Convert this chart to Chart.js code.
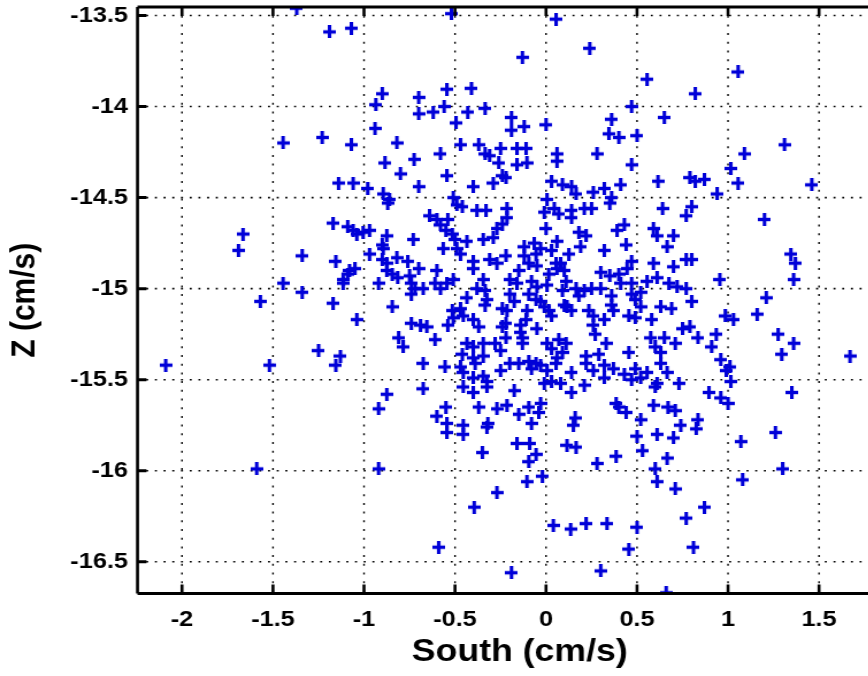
<!DOCTYPE html>
<html lang="en">
<head>
<meta charset="UTF-8">
<title>South vs Z</title>
<style>
  html, body { margin: 0; padding: 0; background: #fff; overflow: hidden; }
  #wrap { width: 868px; height: 676px; overflow: hidden; }
</style>
</head>
<body>
<div id="wrap">
  <!-- drawn 800 wide, shown 920 wide: the original figure is stretched sideways and cropped on the right -->
  <canvas id="plot" width="800" height="676" style="width:920px;height:676px"></canvas>
</div>
<script src="https://cdn.jsdelivr.net/npm/chart.js"></script>
<script>
const SX = 920 / 800;

const southVals = [
  -1.37,-0.52,-1.19,-1.07,0.055,0.24,-0.13,0.555,1.055,0.82,
  -0.545,-0.41,-0.90,-0.935,-0.70,-0.70,-0.62,-0.56,-0.43,-0.335,
  -0.495,-0.94,-1.23,-1.07,-0.82,-0.58,-0.47,-0.37,-0.335,-0.31,
  -0.26,-0.25,-0.885,-0.725,-0.80,-0.545,-1.14,-1.06,-0.98,-0.895,
  -0.70,-0.40,-0.29,-0.24,-0.51,-0.86,0.47,0.65,-0.19,-0.19,
  -0.12,0.0,0.36,0.345,0.40,0.50,-0.16,-0.11,-0.16,-0.105,
  0.06,0.06,0.28,0.47,-0.22,0.03,0.09,0.14,0.165,0.26,
  0.32,0.36,0.41,0.615,0.005,0.79,1.31,1.09,1.015,1.055,
  0.82,0.87,0.94,1.46,-1.445,-1.665,-1.69,-1.34,-1.445,-1.34,
  -1.57,-1.25,-2.09,-1.52,-1.59,-0.92,-0.60,-0.55,-0.545,-0.545,
  -0.455,-0.455,-0.37,-0.32,-0.325,-0.27,-0.35,-0.92,-0.27,-0.395,
  -0.59,-0.15,-0.095,-0.08,-0.04,-0.03,-0.215,-0.16,-0.09,-0.055,
  -0.095,-0.105,-0.02,0.16,0.15,0.115,0.165,0.385,0.40,0.44,
  0.385,0.28,0.59,0.67,0.71,0.74,0.52,0.50,0.61,0.70,
  0.53,0.665,0.60,0.61,0.71,0.04,0.135,0.22,0.335,0.50,
  0.455,-0.19,0.30,0.66,0.77,1.0,0.835,0.825,1.07,1.26,
  1.30,1.08,0.87,0.81,1.20,1.345,1.37,1.36,0.955,1.21,
  1.16,0.985,1.03,0.80,0.80,0.80,1.275,1.36,1.295,1.67,
  0.935,0.835,0.79,0.91,0.96,1.01,0.99,1.015,0.895,0.96,
  1.35,-0.87,-1.17,-1.09,-1.06,-1.04,-1.005,-0.97,-0.875,-0.90,
  -0.895,-0.73,-0.97,-1.155,-0.90,-0.875,-0.82,-0.76,-1.05,-1.08,
  -1.09,-1.115,-1.115,-0.875,-0.845,-0.815,-0.92,-0.70,-0.75,-0.74,
  -0.72,-0.74,-0.675,-0.60,-0.61,-0.58,-0.545,-0.51,-1.17,-0.845,
  -1.04,-0.74,-0.69,-0.655,-0.61,-0.81,-0.785,-1.13,-1.155,-0.675,
  -0.555,-0.875,-0.675,-0.49,-0.46,-0.38,-0.33,-0.64,-0.60,-0.58,
  -0.54,-0.55,-0.515,-0.50,-0.565,-0.49,-0.47,-0.435,-0.345,-0.29,
  -0.27,-0.24,-0.40,-0.40,-0.31,-0.27,-0.345,-0.38,-0.335,-0.435,
  -0.325,-0.335,-0.47,-0.515,-0.51,-0.455,-0.54,-0.40,-0.37,-0.24,
  -0.435,-0.40,-0.345,-0.28,-0.46,-0.40,-0.345,-0.25,-0.39,-0.47,
  -0.455,-0.345,-0.40,-0.325,-0.455,-0.40,-0.325,-0.25,-0.24,-0.215,
  -0.215,-0.01,0.045,0.07,0.14,0.21,0.25,0.14,0.35,0.64,
  0.77,0.0,0.43,0.39,0.59,0.61,0.70,0.665,0.18,0.22,
  0.19,0.06,-0.12,-0.065,-0.03,0.03,0.32,0.44,-0.22,-0.12,
  -0.055,0.125,0.055,0.08,0.10,0.06,-0.095,-0.05,-0.15,0.47,
  0.59,0.70,0.77,0.30,0.35,0.40,0.445,0.41,0.47,0.555,
  0.61,0.675,0.72,0.77,0.015,0.11,-0.20,-0.16,-0.08,-0.05,
  0.005,0.165,0.21,0.25,0.30,0.18,0.09,0.36,0.47,0.49,
  0.52,-0.20,-0.175,-0.095,-0.055,-0.03,-0.01,0.015,-0.105,-0.215,
  0.10,0.14,0.115,0.235,0.26,0.32,0.36,0.37,0.455,0.49,
  0.52,0.58,0.63,0.69,0.03,-0.11,-0.22,-0.14,-0.14,-0.05,
  0.26,0.27,0.75,-0.22,-0.13,-0.13,0.005,0.07,0.11,0.33,
  0.575,0.65,0.71,0.60,0.63,0.455,0.29,0.22,0.03,0.09,
  0.06,-0.20,-0.15,-0.095,-0.055,-0.03,-0.08,0.005,0.055,0.14,
  0.22,0.26,0.32,0.37,0.43,0.49,0.52,0.555,0.63,0.665,
  0.61,0.60,0.73,-0.175,-0.01,0.03,0.08,0.14,0.21,0.32,
  0.47
];
const zVals = [
  -13.46,-13.49,-13.59,-13.57,-13.52,-13.68,-13.73,-13.85,-13.81,-13.93,
  -13.905,-13.90,-13.93,-13.99,-13.95,-14.04,-14.03,-14.0,-14.03,-14.01,
  -14.09,-14.12,-14.17,-14.21,-14.20,-14.26,-14.21,-14.21,-14.26,-14.27,
  -14.31,-14.23,-14.31,-14.29,-14.37,-14.38,-14.42,-14.42,-14.45,-14.48,
  -14.44,-14.44,-14.42,-14.38,-14.50,-14.51,-14.0,-14.06,-14.06,-14.13,
  -14.11,-14.10,-14.07,-14.15,-14.17,-14.16,-14.23,-14.23,-14.32,-14.31,
  -14.26,-14.30,-14.26,-14.32,-14.39,-14.41,-14.43,-14.44,-14.48,-14.47,
  -14.45,-14.50,-14.43,-14.41,-14.51,-14.39,-14.21,-14.26,-14.34,-14.42,
  -14.41,-14.40,-14.48,-14.43,-14.20,-14.70,-14.79,-14.82,-14.97,-15.02,
  -15.07,-15.34,-15.42,-15.42,-15.99,-15.66,-15.70,-15.65,-15.74,-15.79,
  -15.75,-15.80,-15.65,-15.74,-15.76,-15.66,-15.90,-15.99,-16.12,-16.20,
  -16.42,-15.69,-15.65,-15.74,-15.68,-15.63,-15.64,-15.85,-15.85,-15.91,
  -15.95,-16.06,-16.03,-15.71,-15.75,-15.86,-15.87,-15.63,-15.65,-15.68,
  -15.92,-15.96,-15.64,-15.65,-15.67,-15.75,-15.72,-15.81,-15.80,-15.82,
  -15.89,-15.93,-15.99,-16.06,-16.10,-16.30,-16.32,-16.29,-16.29,-16.31,
  -16.43,-16.56,-16.55,-16.67,-16.26,-15.63,-15.72,-15.77,-15.84,-15.79,
  -15.99,-16.05,-16.20,-16.42,-14.62,-14.81,-14.86,-14.95,-14.95,-15.05,
  -15.14,-15.15,-15.17,-15.07,-14.84,-14.55,-15.25,-15.30,-15.36,-15.37,
  -15.25,-15.27,-15.21,-15.32,-15.39,-15.43,-15.45,-15.51,-15.57,-15.60,
  -15.57,-14.53,-14.64,-14.66,-14.68,-14.70,-14.69,-14.68,-14.71,-14.76,
  -14.78,-14.73,-14.81,-14.85,-14.84,-14.86,-14.83,-14.85,-14.89,-14.90,
  -14.92,-14.95,-14.97,-14.90,-14.92,-14.94,-14.97,-14.89,-14.93,-14.97,
  -15.0,-15.03,-15.0,-14.90,-14.97,-15.0,-14.97,-14.95,-15.08,-15.10,
  -15.17,-15.19,-15.20,-15.21,-15.28,-15.27,-15.32,-15.37,-15.42,-15.41,
  -15.43,-15.58,-15.55,-14.54,-14.55,-14.57,-14.57,-14.60,-14.62,-14.65,
  -14.62,-14.68,-14.70,-14.73,-14.78,-14.78,-14.81,-14.74,-14.73,-14.72,
  -14.67,-14.645,-14.85,-14.89,-14.84,-14.86,-14.95,-15.0,-15.01,-15.05,
  -15.06,-15.09,-15.11,-15.12,-15.16,-15.15,-15.20,-15.17,-15.21,-15.11,
  -15.30,-15.32,-15.30,-15.30,-15.36,-15.38,-15.37,-15.34,-15.41,-15.43,
  -15.46,-15.48,-15.49,-15.51,-15.54,-15.57,-15.54,-15.45,-15.21,-14.56,
  -14.61,-14.58,-14.56,-14.59,-14.57,-14.56,-14.56,-14.61,-14.53,-14.56,
  -14.60,-14.67,-14.65,-14.68,-14.67,-14.71,-14.71,-14.77,-14.69,-14.71,
  -14.77,-14.74,-14.77,-14.75,-14.78,-14.79,-14.79,-14.76,-14.82,-14.82,
  -14.81,-14.81,-14.86,-14.86,-14.90,-14.89,-14.86,-14.875,-14.90,-14.85,
  -14.86,-14.88,-14.84,-14.91,-14.93,-14.92,-14.89,-14.97,-14.97,-14.96,
  -14.94,-14.97,-14.99,-15.0,-14.92,-14.96,-14.95,-14.97,-14.96,-14.99,
  -14.98,-15.0,-15.01,-15.0,-15.0,-15.04,-15.01,-15.04,-15.03,-15.06,
  -15.02,-15.03,-15.07,-15.03,-15.06,-15.07,-15.10,-15.12,-15.12,-15.12,
  -15.09,-15.12,-15.10,-15.12,-15.15,-15.17,-15.09,-15.12,-15.15,-15.16,
  -15.10,-15.17,-15.10,-15.11,-15.15,-15.17,-15.19,-15.20,-15.24,-15.22,
  -15.20,-15.25,-15.22,-15.27,-15.27,-15.30,-15.30,-15.28,-15.30,-15.30,
  -15.27,-15.27,-15.30,-15.32,-15.35,-15.35,-15.36,-15.37,-15.33,-15.35,
  -15.38,-15.41,-15.41,-15.40,-15.41,-15.42,-15.44,-15.45,-15.41,-15.46,
  -15.41,-15.45,-15.42,-15.44,-15.47,-15.44,-15.49,-15.46,-15.41,-15.46,
  -15.52,-15.54,-15.52,-15.56,-15.52,-15.51,-15.52,-15.57,-15.53,-15.49,
  -15.50
];
const xTickVals = [-2, -1.5, -1, -0.5, 0, 0.5, 1, 1.5];
const yTickVals = [-16.5, -16, -15.5, -15, -14.5, -14, -13.5];
const xLabel = 'South (cm/s)';
const yLabel = 'Z (cm/s)';

const FONT = '"Liberation Sans", Arial, Helvetica, sans-serif';
const MARK = '#0000d8';

// plus marker, narrower in canvas units so it comes out square after the stretch
function plusMark() {
  const c = document.createElement('canvas');
  c.width = 11; c.height = 13;
  const g = c.getContext('2d');
  g.fillStyle = MARK;
  g.fillRect(0, 4.8, 11, 3.4);
  g.fillRect(4, 0, 3.1, 13);
  return c;
}

// dotted grid under the points, box and inward ticks on top
const boxPlugin = {
  id: 'box',
  beforeDatasetsDraw(chart) {
    const {ctx, chartArea: a, scales: {x, y}} = chart;
    ctx.save();
    ctx.strokeStyle = '#000';
    ctx.lineWidth = 1.6 / SX;
    ctx.setLineDash([2, 6.7]);
    x.ticks.forEach(t => {
      const px = x.getPixelForValue(t.value);
      ctx.beginPath(); ctx.moveTo(px, a.top); ctx.lineTo(px, a.bottom); ctx.stroke();
    });
    ctx.lineWidth = 1.6;
    ctx.setLineDash([2 / SX, 6.7 / SX]);
    y.ticks.forEach(t => {
      const py = y.getPixelForValue(t.value);
      ctx.beginPath(); ctx.moveTo(a.left, py); ctx.lineTo(a.right, py); ctx.stroke();
    });
    ctx.restore();
  },
  afterDatasetsDraw(chart) {
    const {ctx, chartArea: a, scales: {x, y}} = chart;
    ctx.save();
    ctx.strokeStyle = '#000';
    ctx.setLineDash([]);
    ctx.lineWidth = 3;
    ctx.beginPath();
    ctx.moveTo(a.left, a.top); ctx.lineTo(a.right, a.top);
    ctx.moveTo(a.left, a.bottom); ctx.lineTo(a.right, a.bottom);
    ctx.stroke();
    y.ticks.forEach(t => {
      const py = y.getPixelForValue(t.value);
      ctx.beginPath(); ctx.moveTo(a.left, py); ctx.lineTo(a.left + 9 / SX, py);
      ctx.moveTo(a.right, py); ctx.lineTo(a.right - 9 / SX, py); ctx.stroke();
    });
    ctx.lineWidth = 3 / SX;
    ctx.beginPath();
    ctx.moveTo(a.left, a.top); ctx.lineTo(a.left, a.bottom);
    ctx.moveTo(a.right, a.top); ctx.lineTo(a.right, a.bottom);
    ctx.stroke();
    x.ticks.forEach(t => {
      const px = x.getPixelForValue(t.value);
      ctx.beginPath(); ctx.moveTo(px, a.bottom); ctx.lineTo(px, a.bottom - 9);
      ctx.moveTo(px, a.top); ctx.lineTo(px, a.top + 9); ctx.stroke();
    });
    ctx.restore();
  }
};

const points = southVals.map((v, i) => ({x: v, y: zVals[i]}));

new Chart(document.getElementById('plot'), {
  type: 'scatter',
  data: {
    datasets: [{
      data: points,
      pointStyle: plusMark(),
      pointRadius: 6,
      pointHoverRadius: 6,
      showLine: false,
      clip: 0
    }]
  },
  options: {
    responsive: false,
    devicePixelRatio: 1,
    animation: false,
    events: [],
    layout: { padding: { left: 0, top: 5.5, right: 800 - 902 / SX, bottom: 0 } },
    plugins: { legend: { display: false }, tooltip: { enabled: false } },
    scales: {
      x: {
        type: 'linear',
        min: -2.2445,
        max: 1.956,
        afterBuildTicks: s => { s.ticks = xTickVals.map(v => ({value: v})); },
        afterFit: s => { s.height = 82.5; s.paddingLeft = 0; s.paddingRight = 0; },
        grid: { display: false, drawTicks: false },
        border: { display: false },
        ticks: {
          padding: 13, color: '#000', autoSkip: false, maxRotation: 0,
          font: { family: FONT, size: 22, weight: 'bold' },
          callback: v => String(v)
        },
        title: {
          display: true, text: xLabel, color: '#000',
          font: { family: FONT, size: 31, weight: 'bold' },
          padding: { top: 0, bottom: 5 }
        }
      },
      y: {
        type: 'linear',
        min: -16.674,
        max: -13.4534,
        afterBuildTicks: s => { s.ticks = yTickVals.map(v => ({value: v})); },
        afterFit: s => { s.width = 137.5 / SX; s.paddingTop = 0; s.paddingBottom = 0; },
        grid: { display: false, drawTicks: false },
        border: { display: false },
        ticks: {
          padding: 8.3, color: '#000', autoSkip: false,
          font: { family: FONT, size: 22, weight: 'bold' },
          callback: v => String(v)
        },
        title: {
          display: true, text: yLabel, color: '#000',
          font: { family: FONT, size: 30, weight: 'bold' },
          padding: { top: 3.5, bottom: 0 }
        }
      }
    }
  },
  plugins: [boxPlugin]
});
</script>
</body>
</html>
